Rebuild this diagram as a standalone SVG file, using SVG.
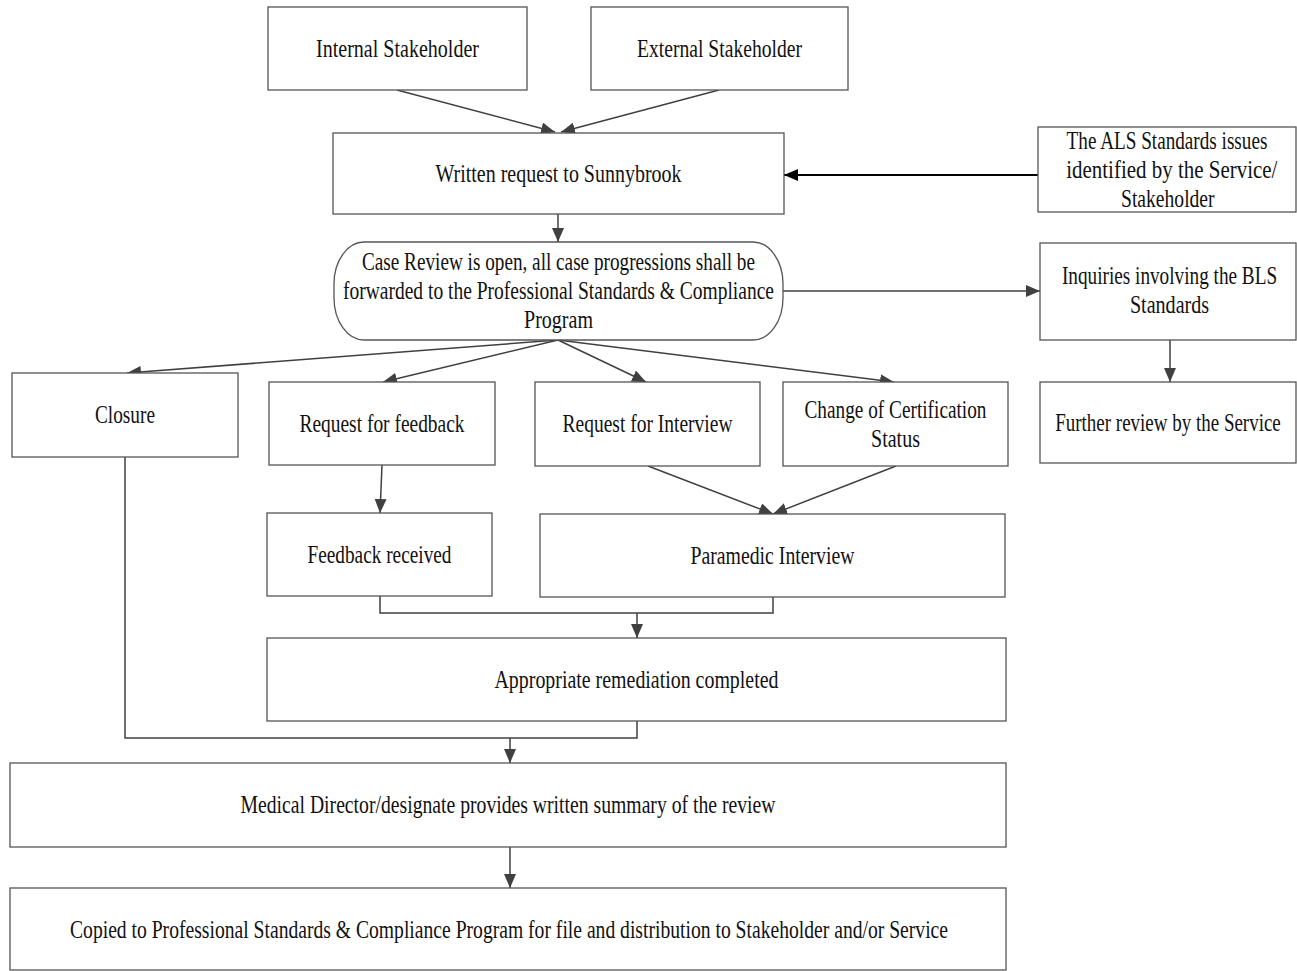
<svg xmlns="http://www.w3.org/2000/svg" width="1297" height="971" viewBox="0 0 1297 971">
<style>
.box{fill:#fff;stroke:#555;stroke-width:1.3}
.t{font-family:"Liberation Serif","Times New Roman",serif;font-size:26px;fill:#111;text-anchor:middle}
.c{fill:none;stroke:#404040;stroke-width:1.5}
.k{fill:none;stroke:#000;stroke-width:2}
</style>
<defs>
<marker id="ah" markerUnits="userSpaceOnUse" markerWidth="14" markerHeight="12" refX="14" refY="6" orient="auto">
<path d="M0,0 L14,6 L0,12 z" fill="#404040"/>
</marker>
<marker id="ahk" markerUnits="userSpaceOnUse" markerWidth="14" markerHeight="12" refX="14" refY="6" orient="auto">
<path d="M0,0 L14,6 L0,12 z" fill="#000"/>
</marker>
</defs>
<rect width="1297" height="971" fill="#fff"/>

<g id="connectors">
<line class="c" x1="397" y1="90" x2="555" y2="132" marker-end="url(#ah)"/>
<line class="c" x1="719" y1="90" x2="561" y2="132" marker-end="url(#ah)"/>
<line class="c" x1="558" y1="214" x2="558" y2="242" marker-end="url(#ah)"/>
<line class="k" x1="1038" y1="175" x2="784" y2="175" marker-end="url(#ahk)"/>
<line class="c" x1="783" y1="291" x2="1040" y2="291" marker-end="url(#ah)"/>
<line class="c" x1="558" y1="340" x2="127" y2="373" marker-end="url(#ah)"/>
<line class="c" x1="558" y1="340" x2="383" y2="382" marker-end="url(#ah)"/>
<line class="c" x1="558" y1="340" x2="646" y2="382" marker-end="url(#ah)"/>
<line class="c" x1="558" y1="340" x2="894" y2="382" marker-end="url(#ah)"/>
<line class="c" x1="382" y1="465" x2="380" y2="513" marker-end="url(#ah)"/>
<line class="c" x1="648" y1="466" x2="773" y2="514" marker-end="url(#ah)"/>
<line class="c" x1="896" y1="466" x2="773" y2="514" marker-end="url(#ah)"/>
<line class="c" x1="1170" y1="340" x2="1170" y2="382" marker-end="url(#ah)"/>
<polyline class="c" points="380,596 380,613 773,613 773,597"/>
<line class="c" x1="637" y1="613" x2="637" y2="638" marker-end="url(#ah)"/>
<polyline class="c" points="125,457 125,738 637,738 637,721"/>
<line class="c" x1="510" y1="738" x2="510" y2="763" marker-end="url(#ah)"/>
<line class="c" x1="510" y1="847" x2="510" y2="888" marker-end="url(#ah)"/>
</g>

<g id="internal">
<rect class="box" x="268" y="7" width="259" height="83"/>
<text class="t" x="397.5" y="57" textLength="163" lengthAdjust="spacingAndGlyphs">Internal Stakeholder</text>
</g>
<g id="external">
<rect class="box" x="591" y="7" width="257" height="83"/>
<text class="t" x="719.5" y="57" textLength="165" lengthAdjust="spacingAndGlyphs">External Stakeholder</text>
</g>
<g id="written">
<rect class="box" x="333" y="133" width="451" height="81"/>
<text class="t" x="558.5" y="182" textLength="246" lengthAdjust="spacingAndGlyphs">Written request to Sunnybrook</text>
</g>
<g id="als">
<rect class="box" x="1038" y="127" width="258" height="85"/>
<g transform="translate(1167 0) scale(0.8 1)">
<text class="t" x="0" y="149" textLength="251" lengthAdjust="spacingAndGlyphs">The ALS Standards issues</text>
<text class="t" x="6" y="178" textLength="264" lengthAdjust="spacingAndGlyphs">identified by the Service/</text>
<text class="t" x="1" y="207" textLength="117" lengthAdjust="spacingAndGlyphs">Stakeholder</text>
</g>
</g>
<g id="casereview">
<rect class="box" x="334" y="242" width="449" height="98" rx="30" ry="42"/>
<text class="t" x="558.5" y="270" textLength="393" lengthAdjust="spacingAndGlyphs">Case Review is open, all case progressions shall be</text>
<text class="t" x="558.5" y="299" textLength="431" lengthAdjust="spacingAndGlyphs">forwarded to the Professional Standards &amp; Compliance</text>
<text class="t" x="558.5" y="328" textLength="69" lengthAdjust="spacingAndGlyphs">Program</text>
</g>
<g id="inquiries">
<rect class="box" x="1040" y="243" width="256" height="97"/>
<g transform="translate(1169.5 0) scale(0.8 1)">
<text class="t" x="0" y="284" textLength="269" lengthAdjust="spacingAndGlyphs">Inquiries involving the BLS</text>
<text class="t" x="0" y="313" textLength="99" lengthAdjust="spacingAndGlyphs">Standards</text>
</g>
</g>
<g id="further">
<rect class="box" x="1040" y="382" width="256" height="81"/>
<g transform="translate(1168 0) scale(0.8 1)">
<text class="t" x="0" y="431" style="font-size:25px" textLength="282" lengthAdjust="spacingAndGlyphs">Further review by the Service</text>
</g>
</g>
<g id="closure">
<rect class="box" x="12" y="373" width="226" height="84"/>
<text class="t" x="125" y="423" textLength="60" lengthAdjust="spacingAndGlyphs">Closure</text>
</g>
<g id="reqfeedback">
<rect class="box" x="269" y="382" width="226" height="83"/>
<text class="t" x="382" y="432" textLength="165" lengthAdjust="spacingAndGlyphs">Request for feedback</text>
</g>
<g id="reqinterview">
<rect class="box" x="535" y="382" width="225" height="84"/>
<text class="t" x="647.5" y="432" textLength="170" lengthAdjust="spacingAndGlyphs">Request for Interview</text>
</g>
<g id="certstatus">
<rect class="box" x="783" y="382" width="225" height="84"/>
<text class="t" x="895.5" y="418" textLength="182" lengthAdjust="spacingAndGlyphs">Change of Certification</text>
<text class="t" x="895.5" y="447" textLength="49" lengthAdjust="spacingAndGlyphs">Status</text>
</g>
<g id="feedbackreceived">
<rect class="box" x="267" y="513" width="225" height="83"/>
<text class="t" x="379.5" y="563" textLength="144" lengthAdjust="spacingAndGlyphs">Feedback received</text>
</g>
<g id="paramedic">
<rect class="box" x="540" y="514" width="465" height="83"/>
<text class="t" x="772.5" y="564" textLength="164" lengthAdjust="spacingAndGlyphs">Paramedic Interview</text>
</g>
<g id="remediation">
<rect class="box" x="267" y="638" width="739" height="83"/>
<text class="t" x="636.5" y="688" textLength="284" lengthAdjust="spacingAndGlyphs">Appropriate remediation completed</text>
</g>
<g id="medical">
<rect class="box" x="10" y="763" width="996" height="84"/>
<text class="t" x="508" y="813" textLength="535" lengthAdjust="spacingAndGlyphs">Medical Director/designate provides written summary of the review</text>
</g>
<g id="copied">
<rect class="box" x="10" y="888" width="996" height="82"/>
<text class="t" x="509" y="938" textLength="878" lengthAdjust="spacingAndGlyphs">Copied to Professional Standards &amp; Compliance Program for file and distribution to Stakeholder and/or Service</text>
</g>
</svg>
